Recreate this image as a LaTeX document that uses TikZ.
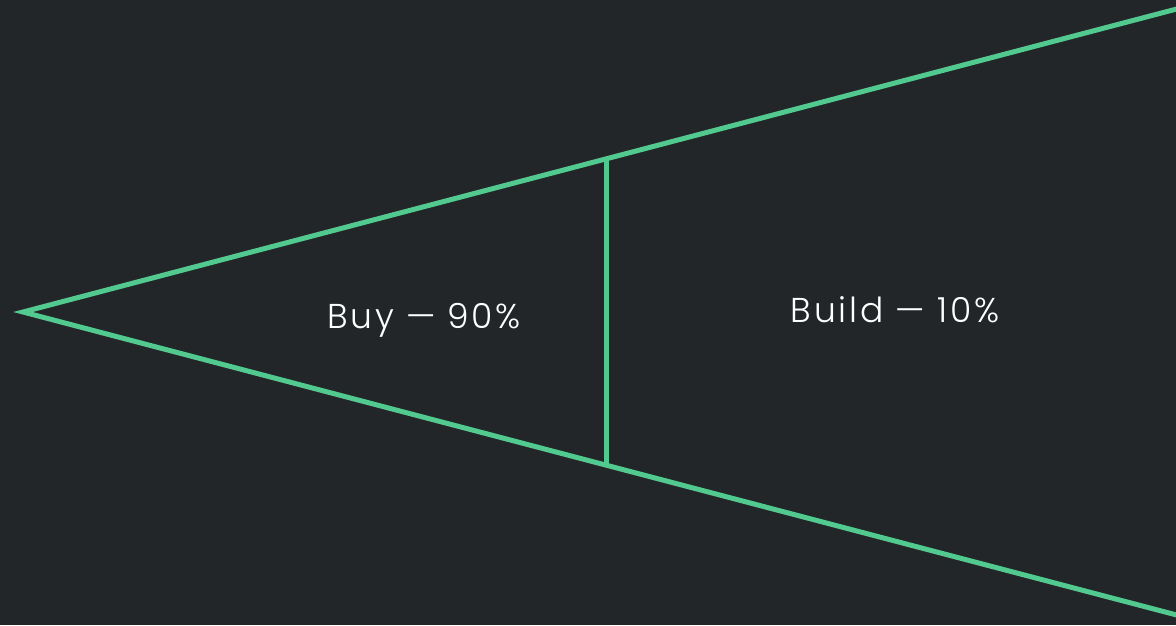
\documentclass[tikz,border=0pt]{standalone}
\usepackage{fontspec}
\setmainfont{Poppins Light}[LetterSpace=8]
\definecolor{bg}{HTML}{222629}
\definecolor{gr}{HTML}{52C98E}
\begin{document}
\begin{tikzpicture}[x=1pt,y=-1pt,
  edge/.style={draw=gr,line width=5pt,line join=miter},
  lbl/.style={text=white,font=\fontsize{34.5}{38}\selectfont,anchor=base,inner sep=0pt}]
\fill[bg] (0,0) rectangle (1176,625);
\useasboundingbox (0,0) rectangle (1176,625);
\coordinate (top) at (1190,5.5);
\coordinate (apex) at (23,312);
\coordinate (bot) at (1190,618.5);
\coordinate (vt) at (606,158.5);
\coordinate (vb) at (606,465.5);
\draw[edge] (top) -- (apex) -- (bot);
\draw[edge] (vt) -- (vb);
\node[lbl] (buy) at (424,328) {Buy — 90\%};
\node[lbl] (build) at (895,322) {Build — 10\%};
\end{tikzpicture}
\end{document}
